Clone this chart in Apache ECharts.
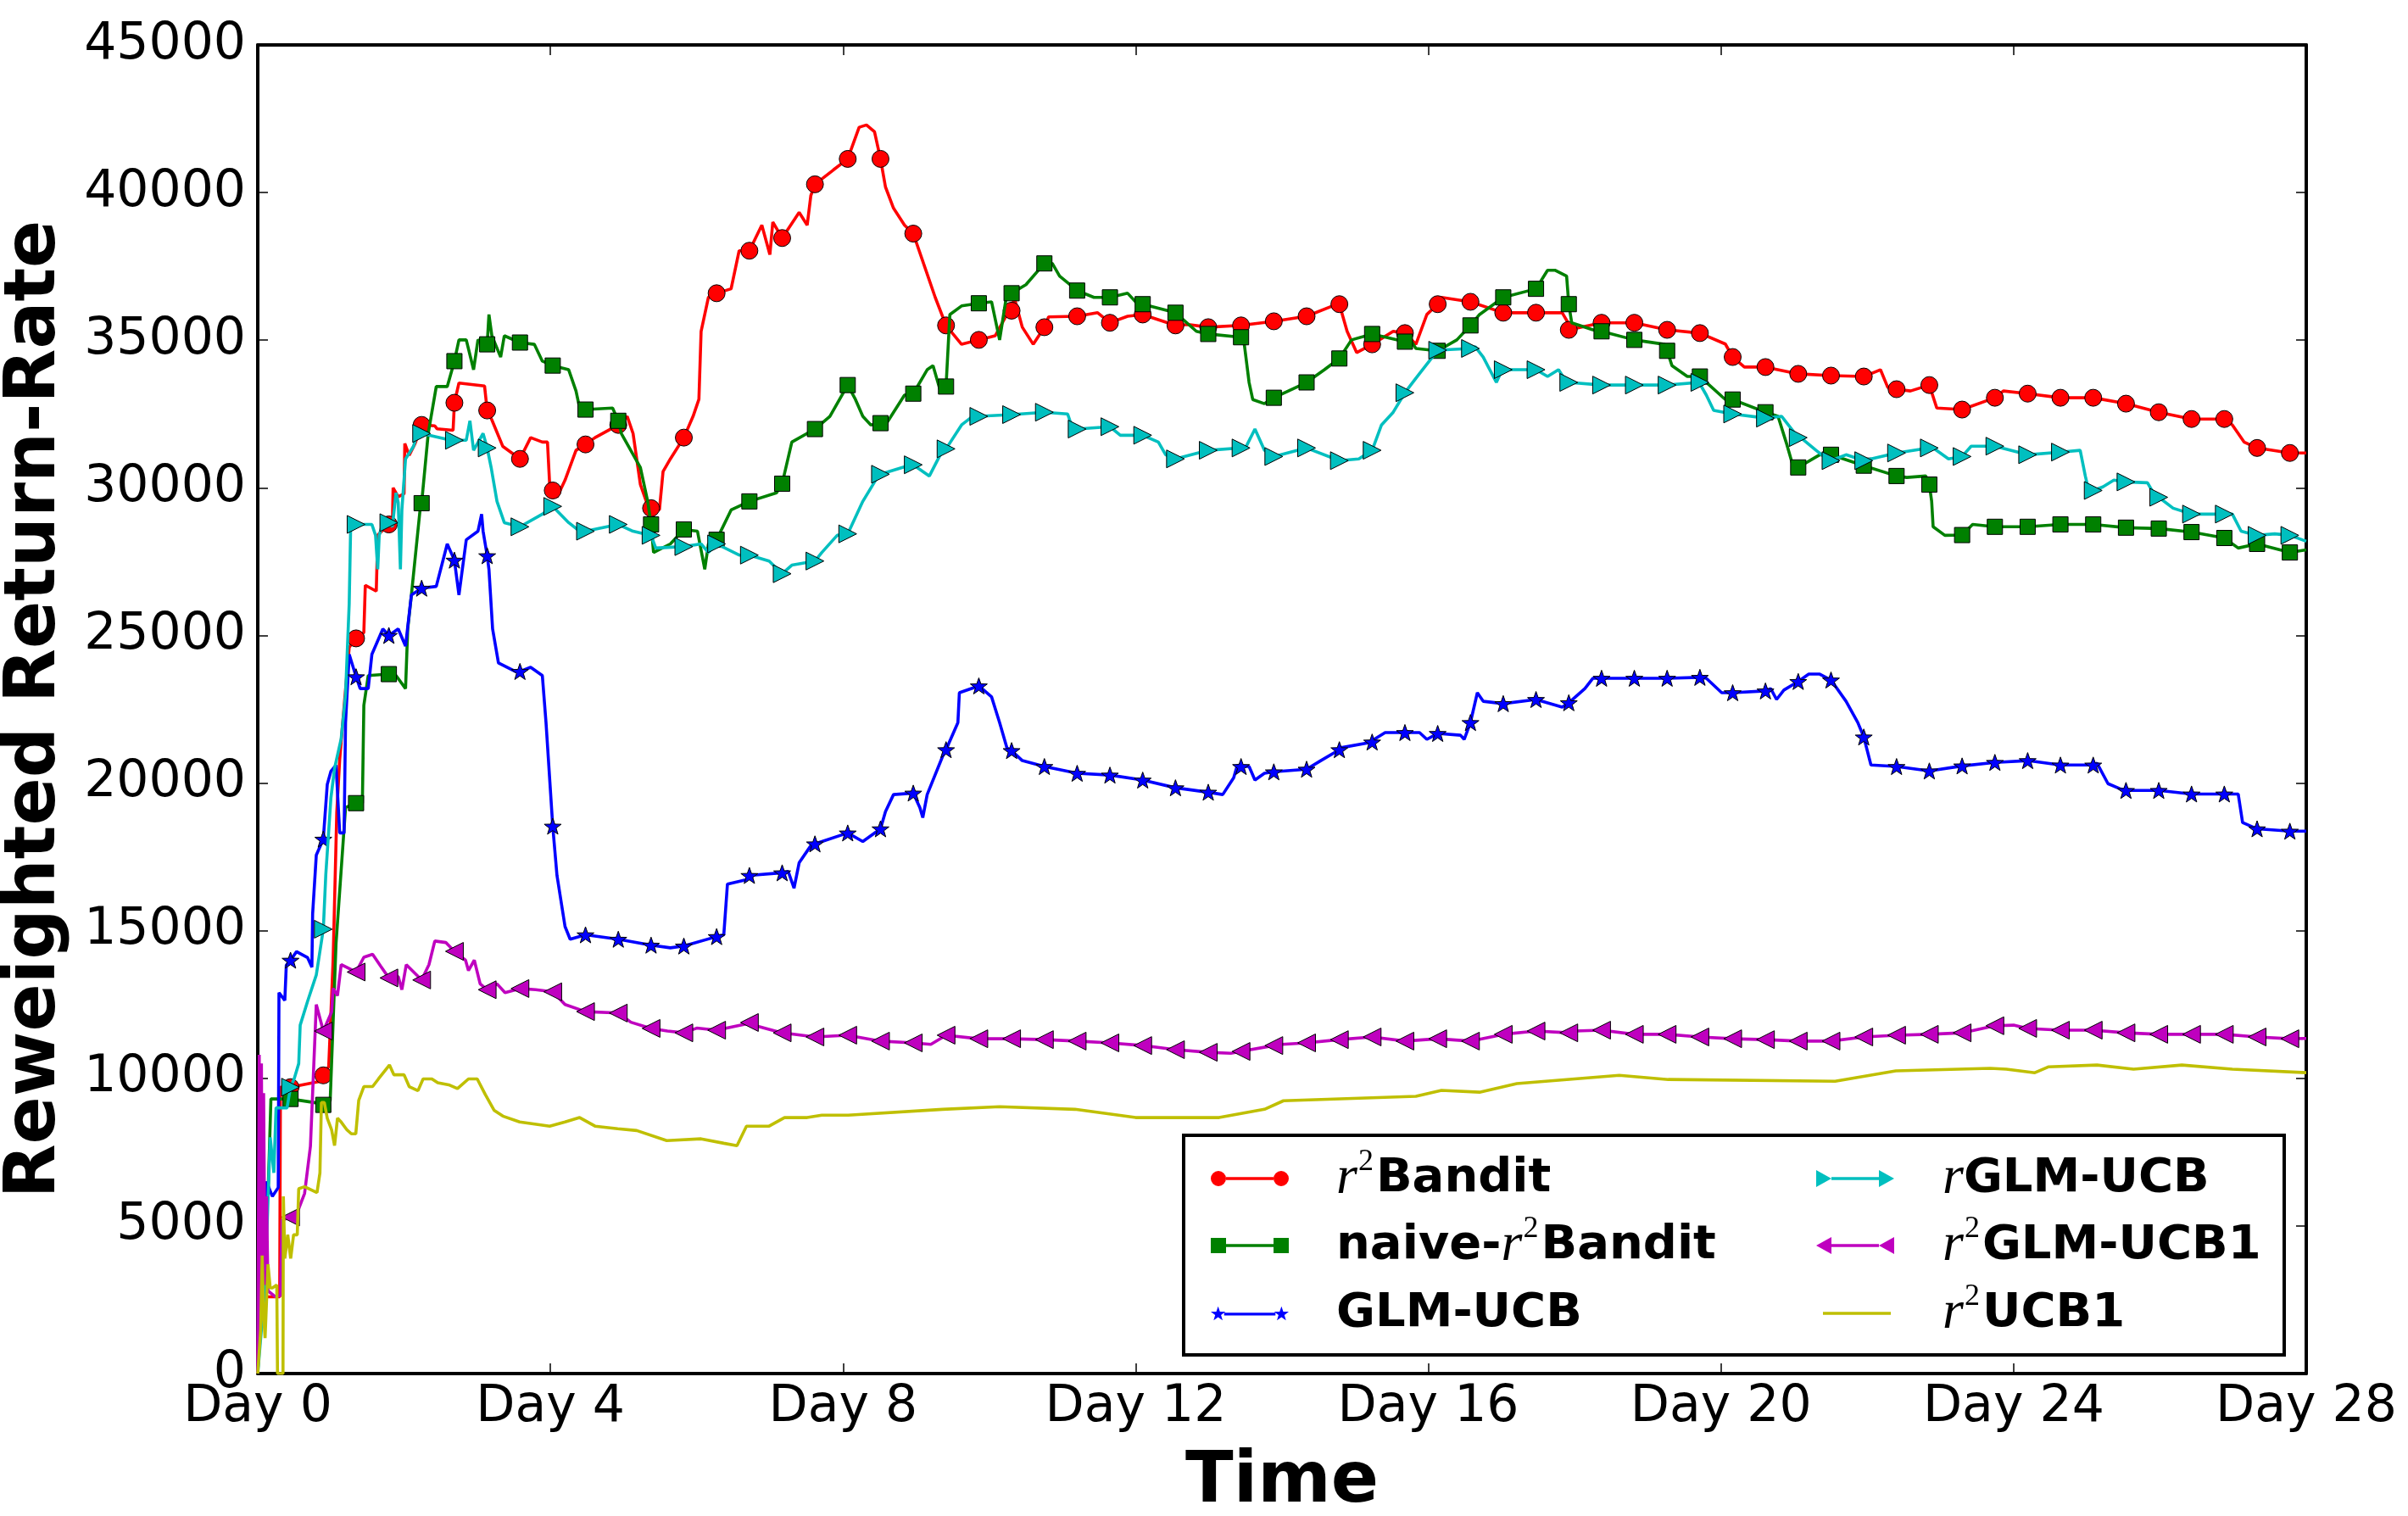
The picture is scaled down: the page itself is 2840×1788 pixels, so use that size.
<!DOCTYPE html>
<html><head><meta charset="utf-8">
<script src="https://cdn.jsdelivr.net/npm/echarts@6/dist/echarts.min.js"></script>
<style>html,body{margin:0;padding:0;background:#fff}#c{width:2840px;height:1788px}</style>
</head><body><div id="c"></div>
<script>
// Sample times (days) at which matplotlib drew markers
const MARK_DAYS = [0.448,0.896,1.344,1.792,2.24,2.688,3.136,3.584,4.032,4.48,4.928,5.376,5.824,6.272,6.72,7.168,7.616,8.064,8.512,8.96,9.408,9.856,10.304,10.752,11.2,11.648,12.096,12.544,12.992,13.44,13.888,14.336,14.784,15.232,15.68,16.128,16.576,17.024,17.472,17.92,18.368,18.816,19.264,19.712,20.16,20.608,21.056,21.504,21.952,22.4,22.848,23.296,23.744,24.192,24.64,25.088,25.536,25.984,26.432,26.88,27.328,27.776];

const X_TICKS = [0,4,8,12,16,20,24,28];
const Y_TICKS = [0,5000,10000,15000,20000,25000,30000,35000,40000,45000];

const SERIES_NAMES = ['r²Bandit','naive-r²Bandit','GLM-UCB','rGLM-UCB','r²GLM-UCB1','r²UCB1'];

// r²Bandit
const RED_MARKS = [9700,10100,24900,28760,32130,32880,32620,30980,29910,31470,32130,29310,31700,36590,38030,38460,40280,41140,41140,38610,35500,35010,36000,35440,35810,35590,35870,35500,35440,35500,35640,35810,36220,34860,35240,36220,36300,35930,35930,35350,35590,35590,35350,35240,34430,34090,33860,33800,33770,33340,33480,32650,33050,33190,33050,33050,32850,32560,32330,32330,31350,31180];
const RED_EXTRA = [[0,0],[0.02,3500],[0.06,2600],[0.3,2600],[0.31,9700],[0.86,9900],[0.97,10400],[1.03,14000],[1.08,19000],[1.12,20800],[1.17,22300],[1.25,24600],[1.45,25100],[1.47,26700],[1.62,26500],[1.64,28400],[1.84,28700],[1.85,30000],[1.92,29700],[2.0,29800],[2.01,31500],[2.07,31100],[2.15,31500],[2.42,32100],[2.45,32000],[2.67,31950],[2.75,33550],[3.1,33450],[3.2,32300],[3.35,31400],[3.73,31700],[3.89,31550],[3.96,31550],[3.99,30110],[4.09,29680],[4.2,30260],[4.35,31270],[4.61,31700],[5.05,32420],[5.13,31840],[5.23,30110],[5.33,29400],[5.49,29250],[5.54,30550],[5.64,30980],[5.95,32420],[6.03,33000],[6.06,35300],[6.16,36450],[6.47,36740],[6.58,38030],[6.89,38900],[7.0,37900],[7.04,39000],[7.4,39330],[7.51,38900],[7.56,39900],[7.87,40770],[8.22,42210],[8.32,42290],[8.43,42060],[8.58,40190],[8.69,39470],[8.84,38900],[9.1,37600],[9.26,36450],[9.62,34860],[10.08,35150],[10.24,35870],[10.34,36450],[10.45,35440],[10.6,34860],[10.81,35790],[11.48,35930],[11.89,35810],[12.72,35530],[14.69,36160],[14.89,35300],[15.02,34580],[15.52,35300],[15.83,34860],[15.98,35870],[16.18,36450],[17.83,35930],[17.91,35590],[20.06,34870],[20.32,34090],[22.18,34000],[22.28,33400],[22.59,33280],[22.95,32700],[23.86,33280],[26.99,32130],[27.15,31550],[28,31180]];

// naive-r²Bandit
const GREEN_MARKS = [9300,9100,19320,23690,29480,34290,34860,34920,34140,32650,32270,28760,28590,28240,29540,30140,31990,33480,32190,33190,33430,36250,36590,37600,36680,36450,36220,35930,35210,35100,33050,33570,34380,35210,34950,34640,35500,36450,36740,36220,35300,35010,34640,33770,32990,32560,30690,31120,30750,30400,30110,28400,28680,28680,28760,28760,28650,28620,28500,28300,28100,27810];
const GREEN_EXTRA = [[0,0],[0.05,4000],[0.1,6500],[0.14,6000],[0.18,9300],[0.41,9300],[0.85,9150],[0.99,9240],[1.07,14570],[1.2,19170],[1.43,19320],[1.45,22630],[1.51,23640],[1.89,23640],[2.02,23200],[2.05,25220],[2.1,26370],[2.23,29540],[2.33,31840],[2.44,33430],[2.59,33430],[2.75,35010],[2.85,35010],[2.95,34000],[3.01,35010],[3.16,35870],[3.2,35150],[3.32,34430],[3.37,35150],[3.78,34860],[3.89,34290],[4.25,34000],[4.35,33280],[4.4,32700],[4.85,32700],[4.97,31840],[5.23,30690],[5.33,29540],[5.41,27810],[5.64,28100],[6.01,28530],[6.11,27240],[6.16,28100],[6.47,29250],[7.09,29830],[7.3,31550],[7.82,32420],[8.17,32990],[8.27,32420],[8.38,32130],[8.58,32130],[8.84,33140],[9.15,34000],[9.23,34140],[9.33,33280],[9.46,35870],[9.62,36160],[10.03,36300],[10.14,35010],[10.24,36590],[10.5,36880],[10.86,37600],[10.96,37170],[11.43,36450],[11.89,36590],[12.05,36160],[12.57,35870],[12.83,35300],[13.47,35150],[13.55,33570],[13.6,32990],[13.76,32850],[14.58,34000],[14.95,35010],[15.72,35150],[15.83,34720],[16.39,35010],[16.7,35870],[17.63,37370],[17.73,37370],[17.89,37170],[17.96,35590],[18.25,35350],[19.23,34860],[19.33,34140],[19.54,33770],[20.06,32990],[20.78,32420],[20.89,31550],[20.99,30690],[21.35,31120],[22.54,30350],[22.8,30400],[22.88,29540],[22.9,28680],[23.06,28390],[23.44,28760],[27.07,27960],[28,27900]];

// GLM-UCB
const BLUE_MARKS = [14000,18100,23600,25000,26600,27550,27700,23780,18540,14860,14710,14510,14480,14800,16870,16960,17940,18310,18450,19660,21130,23290,21100,20560,20330,20270,20100,19840,19690,20560,20380,20470,21130,21390,21710,21680,22050,22690,22830,22720,23550,23550,23550,23580,23060,23120,23440,23490,21560,20560,20410,20580,20700,20760,20610,20610,19750,19750,19630,19630,18450,18370];
const BLUE_EXTRA = [[0,0],[0.05,3500],[0.12,6500],[0.2,6000],[0.28,6300],[0.29,12900],[0.37,12640],[0.39,13830],[0.53,14290],[0.68,14090],[0.74,13760],[0.75,15560],[0.8,17560],[0.95,19950],[1.0,20400],[1.07,20610],[1.12,18310],[1.18,18310],[1.2,22050],[1.25,24360],[1.4,23200],[1.51,23200],[1.56,24360],[1.71,25220],[1.92,25220],[2.02,24640],[2.1,26370],[2.44,26660],[2.59,28100],[2.75,26370],[2.85,28240],[3.01,28530],[3.06,29110],[3.08,28530],[3.16,27240],[3.21,25220],[3.29,24070],[3.52,23780],[3.73,23920],[3.89,23640],[3.94,22050],[4.09,16870],[4.2,15140],[4.27,14710],[5.64,14420],[6.37,14860],[6.42,16580],[6.68,16730],[7.25,17010],[7.33,16440],[7.4,17300],[7.56,17880],[8.27,18020],[8.58,19030],[8.69,19610],[9.05,19170],[9.09,18830],[9.15,19610],[9.36,20900],[9.57,22050],[9.59,23060],[10.03,22920],[10.14,22050],[10.24,21190],[10.45,20760],[13.19,19610],[13.34,20180],[13.39,20610],[13.55,20560],[13.63,20100],[13.76,20330],[14.53,20760],[14.79,21190],[15.26,21480],[15.41,21710],[15.88,21710],[15.98,21480],[16.44,21620],[16.49,21480],[16.67,23060],[16.75,22770],[17.83,22570],[18.14,23200],[18.25,23550],[19.8,23550],[20.01,23060],[20.68,23200],[20.76,22830],[20.86,23150],[21.2,23690],[21.35,23690],[21.71,22770],[21.87,22050],[22.05,20610],[25.14,20670],[25.29,19980],[25.45,19810],[27.07,19630],[27.13,18660],[28,18370]];

// rGLM-UCB
const CYAN_MARKS = [9700,15050,28760,28820,31840,31610,31350,28680,29370,28530,28760,28390,28010,28100,27720,27090,27520,28440,30460,30780,31320,32420,32480,32560,31990,32070,31780,30980,31270,31350,31060,31350,30920,31270,33220,34660,34720,34000,34000,33570,33480,33480,33480,33570,32500,32360,31700,30920,30920,31180,31350,31060,31410,31120,31210,29910,30200,29680,29110,29110,28390,28390];
const CYAN_EXTRA = [[0,0],[0.1,3000],[0.17,8000],[0.22,6800],[0.25,9000],[0.4,9000],[0.5,10000],[0.56,10500],[0.58,11800],[0.68,12600],[0.8,13500],[0.93,16900],[1.0,19500],[1.05,20500],[1.14,21500],[1.2,23000],[1.25,26080],[1.27,28680],[1.56,28760],[1.61,28390],[1.64,27240],[1.66,28390],[1.71,28820],[1.84,28680],[1.89,29830],[1.92,29500],[1.95,27240],[1.97,29250],[2.02,30980],[2.13,31410],[2.18,31840],[2.64,31610],[2.85,31610],[2.9,32270],[2.95,31270],[3.08,31840],[3.19,30690],[3.27,29540],[3.37,28820],[3.89,29110],[4.04,29400],[4.25,28820],[4.4,28530],[5.13,28530],[5.44,27960],[6.06,28100],[6.16,27810],[6.58,27720],[6.99,27520],[7.3,27380],[7.71,27810],[7.92,28390],[8.27,29540],[8.48,30400],[8.89,30750],[9.18,30400],[9.36,31270],[9.62,32130],[9.77,32420],[11.07,32500],[11.14,31990],[11.79,31780],[12.31,31550],[12.41,31120],[13.5,31350],[13.63,31990],[13.76,31270],[15.05,30980],[15.36,32130],[15.52,32560],[15.83,33710],[16.64,34780],[16.75,34430],[16.93,33570],[17.01,34000],[17.63,33770],[17.78,34000],[17.89,33570],[19.7,33570],[19.8,33140],[19.9,32620],[20.83,32420],[21.09,31700],[21.3,31270],[21.45,30980],[21.71,31120],[22.9,31350],[23.11,30980],[23.42,31410],[24.91,31270],[24.98,30400],[25.02,29970],[25.22,30030],[25.37,30260],[25.83,30170],[25.91,29830],[26.18,29310],[26.99,29110],[27.11,28530],[27.57,28440],[28,28190]];

// r²GLM-UCB1
const MAGENTA_MARKS = [5300,11600,13600,13400,13330,14300,13000,13040,12930,12260,12210,11690,11540,11630,11890,11540,11400,11460,11260,11200,11460,11340,11340,11310,11260,11200,11110,10970,10880,10910,11110,11200,11310,11400,11260,11340,11260,11490,11600,11540,11630,11490,11490,11400,11340,11310,11260,11260,11400,11460,11490,11540,11780,11690,11630,11630,11540,11490,11490,11490,11400,11340];
const MAGENTA_EXTRA = [[0,0],[0.02,10800],[0.03,1500],[0.05,10500],[0.065,2500],[0.08,9500],[0.1,3000],[0.12,6000],[0.14,2800],[0.24,2600],[0.31,2650],[0.33,5200],[0.54,5450],[0.64,6100],[0.72,7700],[0.8,12500],[0.91,11550],[1.01,12250],[1.03,13050],[1.09,12800],[1.14,13850],[1.45,14100],[1.57,14200],[1.68,13800],[1.92,13450],[1.97,13000],[2.03,13850],[2.34,13850],[2.42,14650],[2.57,14600],[2.84,14000],[2.88,13650],[2.96,14000],[3.04,13200],[3.27,13200],[3.38,12900],[3.8,13000],[4.2,12500],[5.1,11900],[5.6,11600],[6.0,11700],[6.7,11850],[7.3,11500],[8.0,11450],[9.2,11150],[12.3,11050],[13.3,10850],[14.0,11150],[18.0,11600],[24.0,11800],[28,11350]];

// r²UCB1 (no markers)
const YELLOW_EXTRA = [[0,0],[0.04,1500],[0.06,4000],[0.08,2000],[0.1,1200],[0.14,3700],[0.17,2900],[0.2,2900],[0.26,3000],[0.27,0],[0.345,0],[0.35,6000],[0.37,3900],[0.41,4700],[0.45,3900],[0.49,4700],[0.54,4700],[0.56,6260],[0.64,6330],[0.81,6130],[0.85,6800],[0.87,9180],[0.91,9180],[0.95,8650],[1.01,8250],[1.05,7720],[1.09,8650],[1.14,8520],[1.22,8250],[1.28,8120],[1.34,8120],[1.38,9250],[1.45,9720],[1.57,9720],[1.65,9980],[1.8,10450],[1.86,10120],[2.0,10120],[2.07,9720],[2.19,9580],[2.26,9980],[2.38,9980],[2.46,9850],[2.61,9780],[2.73,9650],[2.88,9980],[3.0,9980],[3.11,9450],[3.23,8920],[3.35,8720],[3.58,8520],[3.99,8380],[4.2,8520],[4.4,8670],[4.61,8380],[4.92,8290],[5.18,8230],[5.59,7890],[6.06,7950],[6.37,7800],[6.55,7720],[6.68,8380],[6.99,8380],[7.2,8670],[7.51,8670],[7.71,8750],[8.07,8750],[9.36,8950],[10.14,9040],[11.17,8950],[12.0,8670],[13.14,8670],[13.76,8950],[14.02,9240],[15.83,9390],[16.18,9590],[16.7,9530],[17.21,9820],[18.61,10100],[19.28,9960],[21.56,9900],[22.39,10250],[23.68,10340],[23.9,10310],[24.29,10190],[24.48,10390],[25.14,10450],[25.64,10310],[26.3,10450],[26.99,10310],[28,10190]];

const COLORS = ['#ff0000','#008000','#0000ff','#00bfbf','#bf00bf','#bfbf00'];

const STAR = 'path://M9,0 L11.35,6.76 L18.51,6.91 L12.8,11.24 L14.88,18.09 L9,14 L3.12,18.09 L5.2,11.24 L-0.51,6.91 L6.65,6.76 Z';
const TRI_R = 'path://M0,0 L20,10 L0,20 Z';
const TRI_L = 'path://M20,0 L0,10 L20,20 Z';

const BAR = ' M18,8.3 L74,8.3 L74,11.7 L18,11.7 Z';
const ICONS = [
  'path://M0,10 A9,9 0 1,1 18,10 A9,9 0 1,1 0,10 Z' + BAR + ' M74,10 A9,9 0 1,1 92,10 A9,9 0 1,1 74,10 Z',
  'path://M0,1 L18,1 L18,19 L0,19 Z' + BAR + ' M74,1 L92,1 L92,19 L74,19 Z',
  'path://M9,1 L11.12,7.09 L17.56,7.22 L12.42,11.11 L14.29,17.28 L9,13.6 L3.71,17.28 L5.58,11.11 L0.44,7.22 L6.88,7.09 Z M16,8.3 L76,8.3 L76,11.7 L16,11.7 Z M83,1 L85.12,7.09 L91.56,7.22 L86.42,11.11 L88.29,17.28 L83,13.6 L77.71,17.28 L79.58,11.11 L74.44,7.22 L80.88,7.09 Z',
  'path://M0,0 L18,10 L0,20 Z' + BAR + ' M74,0 L92,10 L74,20 Z',
  'path://M18,0 L0,10 L18,20 Z' + BAR + ' M92,0 L74,10 L92,20 Z',
  'path://M0,0 L0.1,0 L0,0.1 Z M8,8.3 L88,8.3 L88,11.7 L8,11.7 Z M92,20 L91.9,20 L92,19.9 Z'
];

function build(marks, extra, symbol) {
  const pts = extra.map(p => ({ value: [p[0], p[1]], symbol: 'none' }));
  if (marks) marks.forEach((v, i) => pts.push({ value: [MARK_DAYS[i], v], symbol: symbol }));
  pts.sort((a, b) => a.value[0] - b.value[0]);
  return pts;
}

const defs = [
  { marks: RED_MARKS, extra: RED_EXTRA, symbol: 'circle', size: 20 },
  { marks: GREEN_MARKS, extra: GREEN_EXTRA, symbol: 'rect', size: 18 },
  { marks: BLUE_MARKS, extra: BLUE_EXTRA, symbol: STAR, size: 20 },
  { marks: CYAN_MARKS, extra: CYAN_EXTRA, symbol: TRI_R, size: 21 },
  { marks: MAGENTA_MARKS, extra: MAGENTA_EXTRA, symbol: TRI_L, size: 21 },
  { marks: null, extra: YELLOW_EXTRA, symbol: 'none', size: 0 }
];

const series = defs.map((d, i) => ({
  name: SERIES_NAMES[i],
  type: 'line',
  xAxisIndex: 0, yAxisIndex: 0,
  data: build(d.marks, d.extra, d.symbol),
  symbol: d.symbol === 'none' ? 'circle' : d.symbol,
  symbolSize: d.size,
  symbolKeepAspect: true,
  showSymbol: d.symbol !== 'none',
  showAllSymbol: true,
  clip: true,
  z: 2 + i,
  lineStyle: { color: COLORS[i], width: 3.6 },
  itemStyle: { color: COLORS[i], borderColor: '#000', borderWidth: 1 },
  emphasis: { disabled: true },
  animation: false
}));

const LEGEND_RICH_TEXT = {
  'r²Bandit': '{r|r}{s|2}{b|Bandit}',
  'naive-r²Bandit': '{b|naive-}{r|r}{s|2}{b|Bandit}',
  'GLM-UCB': '{b|GLM-UCB}',
  'rGLM-UCB': '{r|r}{b|GLM-UCB}',
  'r²GLM-UCB1': '{r|r}{s|2}{b|GLM-UCB1}',
  'r²UCB1': '{r|r}{s|2}{b|UCB1}'
};
function richStyles(gap) {
  return {
    p: { width: gap, height: 80, lineHeight: 80 },
    b: { fontFamily: 'DejaVu Sans', fontWeight: 'bold', fontSize: 56, color: '#000', height: 80, lineHeight: 80 },
    r: { fontFamily: 'Liberation Serif', fontStyle: 'italic', fontSize: 64, color: '#000', height: 80, lineHeight: 80 },
    s: { fontFamily: 'Liberation Serif', fontSize: 36, color: '#000', height: 36, lineHeight: 36, verticalAlign: 'top', padding: [3, 3, 0, 1] }
  };
}
// legend rows (centre y) and columns (icon left x)
const LEG_ROWS = [1390, 1469, 1549];
const LEG_COLS = [1428, 2142];
function makeLegend(i) {
  const col = i < 3 ? 0 : 1;
  const row = i % 3;
  return {
    data: [{ name: SERIES_NAMES[i], icon: ICONS[i] }],
    orient: 'vertical', left: LEG_COLS[col], top: LEG_ROWS[row] - 40,
    itemWidth: 92, itemHeight: 20, itemGap: 0,
    padding: 0,
    selectedMode: false,
    z: 20,
    itemStyle: { borderWidth: 0 },
    formatter: name => '{p| }' + LEGEND_RICH_TEXT[name],
    textStyle: { rich: richStyles(col === 0 ? 51 : 52) }
  };
}

const axisLineStyle = { show: true, onZero: false, lineStyle: { color: '#000', width: 4 } };
const tickStyle = { show: true, inside: true, length: 12, lineStyle: { color: '#000', width: 1.5 } };
const tickFont = { fontFamily: 'DejaVu Sans', fontSize: 60, color: '#000' };

const option = {
  animation: false,
  backgroundColor: '#fff',
  grid: { left: 304, right: 120, top: 53, bottom: 168, containLabel: false, outerBoundsMode: 'none' },
  xAxis: [
    { type: 'value', min: X_TICKS[0], max: X_TICKS[X_TICKS.length - 1], interval: 4, position: 'bottom',
      axisLine: axisLineStyle, axisTick: tickStyle, splitLine: { show: false },
      axisLabel: Object.assign({ formatter: v => 'Day ' + v, margin: 10, showMinLabel: true, showMaxLabel: true, hideOverlap: false }, tickFont),
      name: 'Time', nameLocation: 'middle', nameGap: 88,
      nameTextStyle: { fontFamily: 'DejaVu Sans', fontWeight: 'bold', fontSize: 83, color: '#000' } },
    { type: 'value', min: X_TICKS[0], max: X_TICKS[X_TICKS.length - 1], interval: 4, position: 'top',
      axisLine: axisLineStyle, axisTick: tickStyle, splitLine: { show: false }, axisLabel: { show: false } }
  ],
  yAxis: [
    { type: 'value', min: Y_TICKS[0], max: Y_TICKS[Y_TICKS.length - 1], interval: 5000, position: 'left',
      axisLine: axisLineStyle, axisTick: tickStyle, splitLine: { show: false },
      axisLabel: Object.assign({ formatter: v => String(v), margin: 14, showMinLabel: true, showMaxLabel: true }, tickFont),
      name: 'Reweighted Return-Rate', nameLocation: 'middle', nameGap: 220, nameRotate: 90,
      nameTextStyle: { fontFamily: 'DejaVu Sans', fontWeight: 'bold', fontSize: 83, color: '#000' } },
    { type: 'value', min: Y_TICKS[0], max: Y_TICKS[Y_TICKS.length - 1], interval: 5000, position: 'right',
      axisLine: axisLineStyle, axisTick: tickStyle, splitLine: { show: false }, axisLabel: { show: false } }
  ],
  legend: [0, 1, 2, 3, 4, 5].map(makeLegend),
  graphic: [
    { type: 'rect', z: 15, shape: { x: 1396, y: 1339, width: 1298, height: 259 },
      style: { fill: '#fff', stroke: '#000', lineWidth: 4 } }
  ],
  series: series
};

const chart = echarts.init(document.getElementById('c'), null, { renderer: 'canvas' });
chart.setOption(option);
</script>
</body></html>
